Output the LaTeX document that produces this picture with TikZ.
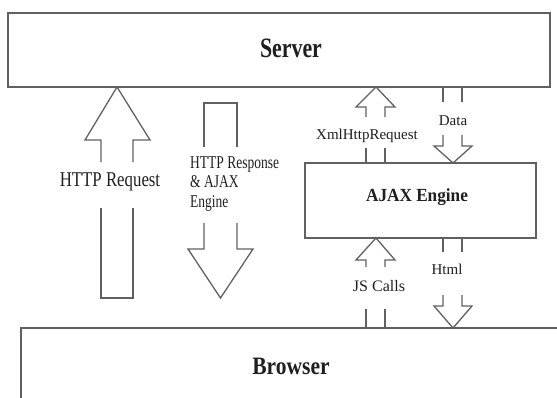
\documentclass[tikz,border=0pt]{standalone}
\usepackage{fontspec}
\setmainfont{Liberation Serif}
\usepackage{graphicx}
\newcommand\sxx[2]{\scalebox{#1}[1]{#2}}
\begin{document}
\begin{tikzpicture}[x=1pt,y=-1pt,
  ln/.style={draw=black!62, line width=1.3pt, line join=miter},
  boxst/.style={draw=black!62, line width=1.5pt, fill=white, inner sep=0pt},
  lbl/.style={inner sep=0pt, anchor=base, text=black!88}]
\path[use as bounding box] (0,0) rectangle (557,398);
\clip (0,0) rectangle (557,398);
% boxes
\node[boxst, minimum width=542pt, minimum height=74pt] (server) at (279,50) {};
\node[boxst, minimum width=560pt, minimum height=100pt] (browser) at (301,378) {};
\node[boxst, minimum width=231pt, minimum height=75pt] (ajax) at (420.5,200.5) {};
% box labels
\node[lbl] (tserver) at (291,58) {\fontsize{28}{30}\selectfont\bfseries\sxx{0.78}{Server}};
\node[lbl] (tbrowser) at (291,374) {\fontsize{25}{27}\selectfont\bfseries\sxx{0.86}{Browser}};
\node[lbl] (tajax) at (417,202) {\fontsize{18.5}{20}\selectfont\bfseries\sxx{0.93}{AJAX Engine}};
% HTTP Request arrow
\draw[ln] (101,162) -- (101,140) -- (85,140) -- (117,87) -- (150,140) -- (133,140) -- (133,162);
\draw[ln] (101,208) -- (101,298) -- (133,298) -- (133,208);
\node[lbl] (treq) at (110,187) {\fontsize{21}{23}\selectfont\sxx{0.80}{HTTP Request}};
% HTTP Response arrow
\draw[ln] (204,147) -- (204,103) -- (237,103) -- (237,147);
\draw[ln] (204,223) -- (204,249) -- (188,249) -- (220.5,298) -- (253,249) -- (237,249) -- (237,223);
\node[lbl, anchor=base west] (tresp1) at (190,169) {\fontsize{18}{19}\selectfont\sxx{0.75}{HTTP Response}};
\node[lbl, anchor=base west] (tresp2) at (190,188) {\fontsize{18}{19}\selectfont\sxx{0.75}{\& AJAX}};
\node[lbl, anchor=base west] (tresp3) at (190,208) {\fontsize{18}{19}\selectfont\sxx{0.75}{Engine}};
% XmlHttpRequest arrow
\draw[ln] (366,117) -- (366,107) -- (356,107) -- (376,87) -- (395,107) -- (385,107) -- (385,117);
\draw[ln] (366,148) -- (366,163);
\draw[ln] (385,148) -- (385,163);
\node[lbl] (txml) at (367,140) {\fontsize{15}{16}\selectfont XmlHttpRequest};
% Data arrow
\draw[ln] (443,87) -- (443,102);
\draw[ln] (462,87) -- (462,102);
\draw[ln] (443,135) -- (443,146) -- (434,146) -- (453,163) -- (472,146) -- (462,146) -- (462,135);
\node[lbl] (tdata) at (453,126) {\fontsize{15}{16}\selectfont Data};
% JS Calls arrow
\draw[ln] (366,267) -- (366,260) -- (356,260) -- (376,238) -- (395,260) -- (385,260) -- (385,267);
\draw[ln] (366,309) -- (366,328);
\draw[ln] (385,309) -- (385,328);
\node[lbl] (tjs) at (379,291) {\fontsize{16}{17}\selectfont JS Calls};
% Html arrow
\draw[ln] (443,238) -- (443,252);
\draw[ln] (462,238) -- (462,252);
\draw[ln] (443,295) -- (443,306) -- (434,306) -- (453,328) -- (472,306) -- (462,306) -- (462,295);
\node[lbl] (thtml) at (447,275) {\fontsize{15}{16}\selectfont Html};
\end{tikzpicture}
\end{document}
